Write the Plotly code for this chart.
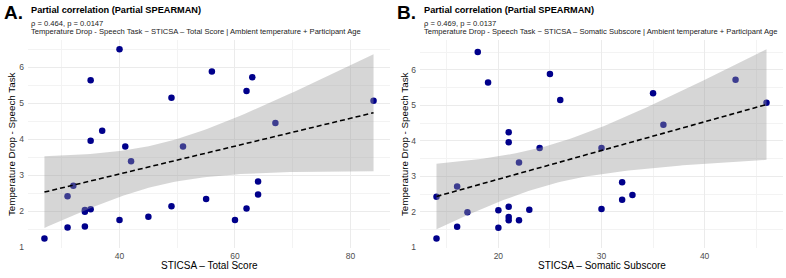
import numpy as np
import plotly.graph_objects as go

# ---- data ----
temp_drop = [1.25, 2.42, 2.71, 1.55, 1.58, 1.99, 2.04, 2.06, 5.64, 3.96,
             4.24, 6.50, 1.76, 1.76, 3.80, 3.80, 3.39, 1.85, 5.15, 2.14,
             5.88, 5.72, 5.34, 4.45, 5.07, 2.83, 2.47, 2.34, 2.08]
sticsa_total = [27, 31, 32, 31, 34, 34, 34, 35, 35, 35,
                37, 40, 40, 60, 41, 51, 42, 45, 49, 49,
                56, 63, 62, 67, 84, 64, 64, 55, 62]
sticsa_somatic = [14, 14, 16, 20, 16, 17, 20, 23, 19, 21,
                  21, 18, 21, 22, 24, 30, 22, 21, 26, 21,
                  25, 43, 35, 36, 46, 32, 33, 32, 30]

panel_labels = ["A.", "B."]
titles = ["Partial correlation (Partial SPEARMAN)"] * 2
stats_text = ["ρ = 0.464, p = 0.0147", "ρ = 0.469, p = 0.0137"]
formulas = [
    "Temperature Drop - Speech Task ~ STICSA – Total Score | Ambient temperature + Participant Age",
    "Temperature Drop - Speech Task ~ STICSA – Somatic Subscore | Ambient temperature + Participant Age",
]
x_titles = ["STICSA – Total Score", "STICSA – Somatic Subscore"]
y_title = "Temperature Drop - Speech Task"
x_major = [20, 10]
x_minor = [10, 5]

FONT = "Liberation Sans, Arial, Helvetica, sans-serif"
W, H = 786, 278
T_975_DF27 = 2.0518

# plot-area geometry (pixels)
panels_px = [(28, 390), (420, 783)]
top_px, bottom_px = 40.5, 252.4

fig = go.Figure()
layout = dict(
    width=W, height=H, margin=dict(l=0, r=0, t=0, b=0),
    paper_bgcolor="white", plot_bgcolor="white", showlegend=False,
    font=dict(family=FONT, color="black"),
)
annotations = []

ydom = [1 - bottom_px / H, 1 - top_px / H]

for i, xs in enumerate([sticsa_total, sticsa_somatic]):
    x = np.array(xs, float)
    y = np.array(temp_drop, float)
    n = len(x)
    b1, b0 = np.polyfit(x, y, 1)
    xg = np.linspace(x.min(), x.max(), 80)
    yhat = b0 + b1 * xg
    resid = y - (b0 + b1 * x)
    s = np.sqrt(np.sum(resid ** 2) / (n - 2))
    sxx = np.sum((x - x.mean()) ** 2)
    se = s * np.sqrt(1 / n + (xg - x.mean()) ** 2 / sxx)
    lo, hi = yhat - T_975_DF27 * se, yhat + T_975_DF27 * se

    xa = "x" if i == 0 else "x2"
    ya = "y" if i == 0 else "y2"

    fig.add_trace(go.Scatter(x=x, y=y, mode="markers", xaxis=xa, yaxis=ya,
                             marker=dict(color="#00008B", size=6.5, line=dict(width=0))))
    fig.add_trace(go.Scatter(x=np.concatenate([xg, xg[::-1]]),
                             y=np.concatenate([hi, lo[::-1]]),
                             mode="lines", fill="toself", xaxis=xa, yaxis=ya,
                             fillcolor="rgba(153,153,153,0.4)", line=dict(width=0),
                             hoverinfo="skip"))
    fig.add_trace(go.Scatter(x=xg, y=yhat, mode="lines", xaxis=xa, yaxis=ya,
                             line=dict(color="black", width=1.6, dash="5px,3px")))

    xr = [x.min(), x.max()]
    xpad = 0.05 * (xr[1] - xr[0])
    ymin = min(y.min(), lo.min()); ymax = max(y.max(), hi.max())
    ypad = 0.05 * (ymax - ymin)

    l_px, r_px = panels_px[i]
    axis_common = dict(showline=False, zeroline=False, ticks="",
                       gridcolor="#EBEBEB", gridwidth=1,
                       tickfont=dict(family=FONT, size=8.5, color="#4D4D4D"))
    layout["xaxis" if i == 0 else "xaxis2"] = dict(
        domain=[l_px / W, r_px / W], anchor=ya,
        range=[xr[0] - xpad, xr[1] + xpad], dtick=x_major[i], tick0=0,
        minor=dict(showgrid=True, dtick=x_minor[i], tick0=0, gridcolor="#F3F3F3", gridwidth=0.6),
        ticklabelstandoff=2, **axis_common)
    layout["yaxis" if i == 0 else "yaxis2"] = dict(
        domain=ydom, anchor=xa,
        range=[ymin - ypad, ymax + ypad], dtick=1, tick0=0,
        minor=dict(showgrid=True, dtick=0.5, tick0=0, gridcolor="#F3F3F3", gridwidth=0.6),
        ticklabelstandoff=3, **axis_common)

    off = 0 if i == 0 else 393
    annotations += [
        dict(text=f"<b>{panel_labels[i]}</b>", x=(off + 2) / W, y=1 - 13 / H,
             xanchor="left", yanchor="middle", font=dict(size=19, color="black")),
        dict(text=f"<b>{titles[i]}</b>", x=(off + 28.5) / W, y=1 - 10.5 / H,
             xanchor="left", yanchor="middle", font=dict(size=9.2, color="black")),
        dict(text=stats_text[i], x=(off + 28.5) / W, y=1 - 23.5 / H,
             xanchor="left", yanchor="middle", font=dict(size=7.6, color="#222222")),
        dict(text=formulas[i], x=(off + 28.5) / W, y=1 - 32.5 / H,
             xanchor="left", yanchor="middle", font=dict(size=7.6, color="#222222")),
        dict(text=x_titles[i], x=(l_px + r_px) / 2 / W, y=1 - 270.5 / H,
             xanchor="center", yanchor="middle", font=dict(size=10, color="black")),
        dict(text=y_title, x=(off + 12.3) / W, y=(ydom[0] + ydom[1]) / 2, textangle=-90,
             xanchor="center", yanchor="middle", font=dict(size=9.8, color="black")),
    ]

for a in annotations:
    a.update(xref="paper", yref="paper", showarrow=False)
layout["annotations"] = annotations
fig.update_layout(**layout)
fig.write_html("out.html")
